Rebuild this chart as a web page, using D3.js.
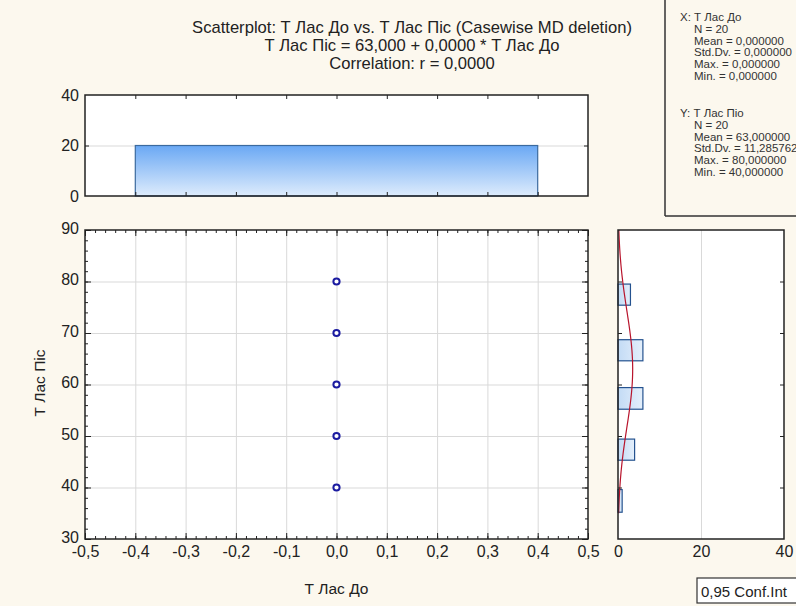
<!DOCTYPE html>
<html>
<head>
<meta charset="utf-8">
<script src="https://cdn.jsdelivr.net/npm/d3@7"></script>
<style>
  body { margin: 0; background: #fcf8ee; }
  svg { display: block; font-family: "Liberation Sans", Arial, sans-serif; }
  .lbl text { fill: #222; }
</style>
</head>
<body>
<div id="chart"></div>
<script>
// scatter data: x (Т Лас До) is 0 for every case
var yValues = [80, 70, 60, 50, 40];
var yCounts = [3, 6, 6, 4, 1];
var xValue = 0;

// histogram of x (top panel)
var xBinLo = [-0.4];
var xBinHi = [0.4];
var xBinCounts = [20];

// histogram of y (right panel), bins as drawn
var yBinLo = [75.4, 64.6, 55.2, 45.3, 35.2];
var yBinHi = [79.5, 68.7, 59.4, 49.4, 39.6];
var yBinCounts = [3, 6, 6, 4, 1];

var xTicks = [-0.5, -0.4, -0.3, -0.2, -0.1, 0, 0.1, 0.2, 0.3, 0.4, 0.5];
var yTicks = [30, 40, 50, 60, 70, 80, 90];
var topTicks = [0, 20, 40];
var rightTicks = [0, 20, 40];

var statsX = ["X: Т Лас До", "N = 20", "Mean = 0,000000", "Std.Dv. = 0,000000", "Max. = 0,000000", "Min. = 0,000000"];
var statsY = ["Y: Т Лас Піо", "N = 20", "Mean = 63,000000", "Std.Dv. = 11,285762", "Max. = 80,000000", "Min. = 40,000000"];
var titleLines = [
  "Scatterplot: Т Лас До vs. Т Лас Піс (Casewise MD deletion)",
  "Т Лас Піс = 63,000 + 0,0000 * Т Лас До",
  "Correlation: r = 0,0000"
];

var N = 20, meanY = 63, sdY = 11.285762, binW = 5;

var W = 796, H = 606;
var loc = d3.formatLocale({decimal: ",", thousands: " ", grouping: [3], currency: ["", ""], minus: "-"});
var f1 = loc.format(".1f");

var svg = d3.select("#chart").append("svg").attr("width", W).attr("height", H);
svg.append("rect").attr("width", W).attr("height", H).attr("fill", "#fcf8ee");

var defs = svg.append("defs");
var g1 = defs.append("linearGradient").attr("id", "barV").attr("x1", 0).attr("y1", 0).attr("x2", 0).attr("y2", 1);
g1.append("stop").attr("offset", "0%").attr("stop-color", "#6aa8f4");
g1.append("stop").attr("offset", "100%").attr("stop-color", "#deecfc");
var g2 = defs.append("linearGradient").attr("id", "barH").attr("x1", 0).attr("y1", 0).attr("x2", 1).attr("y2", 0);
g2.append("stop").attr("offset", "0%").attr("stop-color", "#c3dbf5");
g2.append("stop").attr("offset", "100%").attr("stop-color", "#e4effb");

// scales
var x = d3.scaleLinear().domain([-0.5, 0.5]).range([85, 588]);
var y = d3.scaleLinear().domain([30, 90]).range([539, 230]);
var yTop = d3.scaleLinear().domain([0, 40]).range([196, 95]);
var xRight = d3.scaleLinear().domain([0, 40]).range([618, 784]);

function noDomain(sel) { sel.select(".domain").remove(); }
function tickAxis(axis, tx, ty, len, vals) {
  var g = svg.append("g").attr("transform", "translate(" + tx + "," + ty + ")")
    .call(axis.tickValues(vals).tickSize(len).tickFormat(""));
  noDomain(g);
  g.selectAll("line").attr("stroke", "#222").attr("stroke-width", 1);
  return g;
}
function gridAxis(axis, tx, ty, len, vals) {
  var g = svg.append("g").attr("transform", "translate(" + tx + "," + ty + ")")
    .call(axis.tickValues(vals).tickSize(len).tickFormat(""));
  noDomain(g);
  g.selectAll("line").attr("stroke", "#d9d9d9").attr("stroke-width", 1);
}
function labelAxis(axis, tx, ty, vals, fmt, pad) {
  var g = svg.append("g").attr("class", "lbl").attr("transform", "translate(" + tx + "," + ty + ")")
    .call(axis.tickValues(vals).tickSize(0).tickPadding(pad).tickFormat(fmt));
  noDomain(g);
  g.selectAll("text").attr("font-size", 16).attr("font-family", "Liberation Sans, Arial, sans-serif");
}

// ---------- title ----------
svg.append("g").selectAll("text").data(titleLines).enter().append("text")
  .attr("x", 412).attr("y", (d, i) => 33 + i * 18)
  .attr("text-anchor", "middle").attr("font-size", 16.6).attr("fill", "#222")
  .text(d => d);

// ---------- stats box ----------
svg.append("line").attr("x1", 665).attr("x2", 665).attr("y1", 0).attr("y2", 216)
  .attr("stroke", "#333").attr("stroke-width", 1.5);
svg.append("line").attr("x1", 665).attr("x2", W).attr("y1", 216).attr("y2", 216)
  .attr("stroke", "#333").attr("stroke-width", 1.5);
function statBlock(lines, top) {
  svg.append("g").selectAll("text").data(lines).enter().append("text")
    .attr("x", (d, i) => i === 0 ? 680 : 694)
    .attr("y", (d, i) => top + i * 11.8)
    .attr("font-size", 11.5).attr("fill", "#333")
    .text(d => d);
}
statBlock(statsX, 21);
statBlock(statsY, 117);

// ---------- top histogram ----------
svg.append("rect").attr("x", 85).attr("y", 95).attr("width", 503).attr("height", 101).attr("fill", "#fff");
gridAxis(d3.axisRight(yTop), 85, 0, 503, [20]);
svg.append("g").selectAll("rect").data(xBinCounts).enter().append("rect")
  .attr("x", (d, i) => x(xBinLo[i]))
  .attr("width", (d, i) => x(xBinHi[i]) - x(xBinLo[i]))
  .attr("y", d => yTop(d))
  .attr("height", d => yTop(0) - yTop(d))
  .attr("fill", "url(#barV)").attr("stroke", "#3b6a9e").attr("stroke-width", 1.2);
var innerX = xTicks.slice(1, -1);
tickAxis(d3.axisBottom(x), 0, 95, 4, innerX);
tickAxis(d3.axisTop(x), 0, 196, 4, innerX);
tickAxis(d3.axisRight(yTop), 85, 0, 4, [20]);
tickAxis(d3.axisLeft(yTop), 588, 0, 4, [20]);
svg.append("rect").attr("x", 85).attr("y", 95).attr("width", 503).attr("height", 101)
  .attr("fill", "none").attr("stroke", "#222").attr("stroke-width", 1.5);
labelAxis(d3.axisLeft(yTop), 79, 0, topTicks, d => d, 0);

// ---------- main scatter ----------
svg.append("rect").attr("x", 85).attr("y", 230).attr("width", 503).attr("height", 309).attr("fill", "#fff");
gridAxis(d3.axisBottom(x), 0, 230, 309, innerX);
gridAxis(d3.axisRight(y), 85, 0, 503, yTicks.slice(1, -1));

var xMinor = d3.range(-25, 26).map(k => k / 50);
var yMinor = d3.range(30, 91, 2);
tickAxis(d3.axisTop(x), 0, 539, 3, xMinor);
tickAxis(d3.axisBottom(x), 0, 230, 3, xMinor);
tickAxis(d3.axisRight(y), 85, 0, 3, yMinor);
tickAxis(d3.axisLeft(y), 588, 0, 3, yMinor);
tickAxis(d3.axisTop(x), 0, 539, 6, xTicks);
tickAxis(d3.axisBottom(x), 0, 230, 6, xTicks);
tickAxis(d3.axisRight(y), 85, 0, 6, yTicks);
tickAxis(d3.axisLeft(y), 588, 0, 6, yTicks);

var pts = yValues.map((v, i) => ({x: xValue, y: v, n: yCounts[i]}));
svg.append("g").selectAll("circle").data(pts).enter().append("circle")
  .attr("cx", d => x(d.x)).attr("cy", d => y(d.y)).attr("r", 3.1)
  .attr("fill", "#fff").attr("stroke", "#1b1ba0").attr("stroke-width", 2);

svg.append("rect").attr("x", 85).attr("y", 230).attr("width", 503).attr("height", 309)
  .attr("fill", "none").attr("stroke", "#222").attr("stroke-width", 1.5);
labelAxis(d3.axisLeft(y), 79, -2, yTicks, d => d, 0);
labelAxis(d3.axisBottom(x), 0, 546, xTicks, f1, 0);

svg.append("text").attr("x", x(0)).attr("y", 594).attr("text-anchor", "middle")
  .attr("font-size", 15.5).attr("fill", "#222").text("Т Лас До");
svg.append("text").attr("transform", "translate(45,383) rotate(-90)").attr("text-anchor", "middle")
  .attr("font-size", 15.5).attr("fill", "#222").text("Т Лас Піс");

// ---------- right histogram ----------
svg.append("rect").attr("x", 618).attr("y", 230).attr("width", 166).attr("height", 309).attr("fill", "#fff");
gridAxis(d3.axisBottom(xRight), 0, 230, 309, [20]);
svg.append("g").selectAll("rect").data(yBinCounts).enter().append("rect")
  .attr("x", xRight(0))
  .attr("width", d => xRight(d) - xRight(0))
  .attr("y", (d, i) => y(yBinHi[i]))
  .attr("height", (d, i) => y(yBinLo[i]) - y(yBinHi[i]))
  .attr("fill", "url(#barH)").attr("stroke", "#24528f").attr("stroke-width", 1.2);

// fitted normal curve from the mean / sd in the stats box
var pdf = v => Math.exp(-0.5 * Math.pow((v - meanY) / sdY, 2)) / (sdY * Math.sqrt(2 * Math.PI));
var curveVals = d3.range(35, 90.01, 0.5);
svg.append("path").datum(curveVals)
  .attr("d", d3.line().x(v => xRight(N * binW * pdf(v))).y(v => y(v)))
  .attr("fill", "none").attr("stroke", "#b8142c").attr("stroke-width", 1.2);

tickAxis(d3.axisRight(y), 618, 0, 4, yTicks.slice(1, -1));
tickAxis(d3.axisLeft(y), 784, 0, 4, yTicks.slice(1, -1));
svg.append("rect").attr("x", 618).attr("y", 230).attr("width", 166).attr("height", 309)
  .attr("fill", "none").attr("stroke", "#222").attr("stroke-width", 1.5);
labelAxis(d3.axisBottom(xRight), 0, 546, rightTicks, d => d, 0);

// conf. int. legend box
svg.append("rect").attr("x", 697).attr("y", 578).attr("width", 120).attr("height", 25)
  .attr("fill", "#fff").attr("stroke", "#333").attr("stroke-width", 1.2);
svg.append("text").attr("x", 701).attr("y", 597).attr("font-size", 15).attr("fill", "#222")
  .text("0,95 Conf.Int");
</script>
</body>
</html>
